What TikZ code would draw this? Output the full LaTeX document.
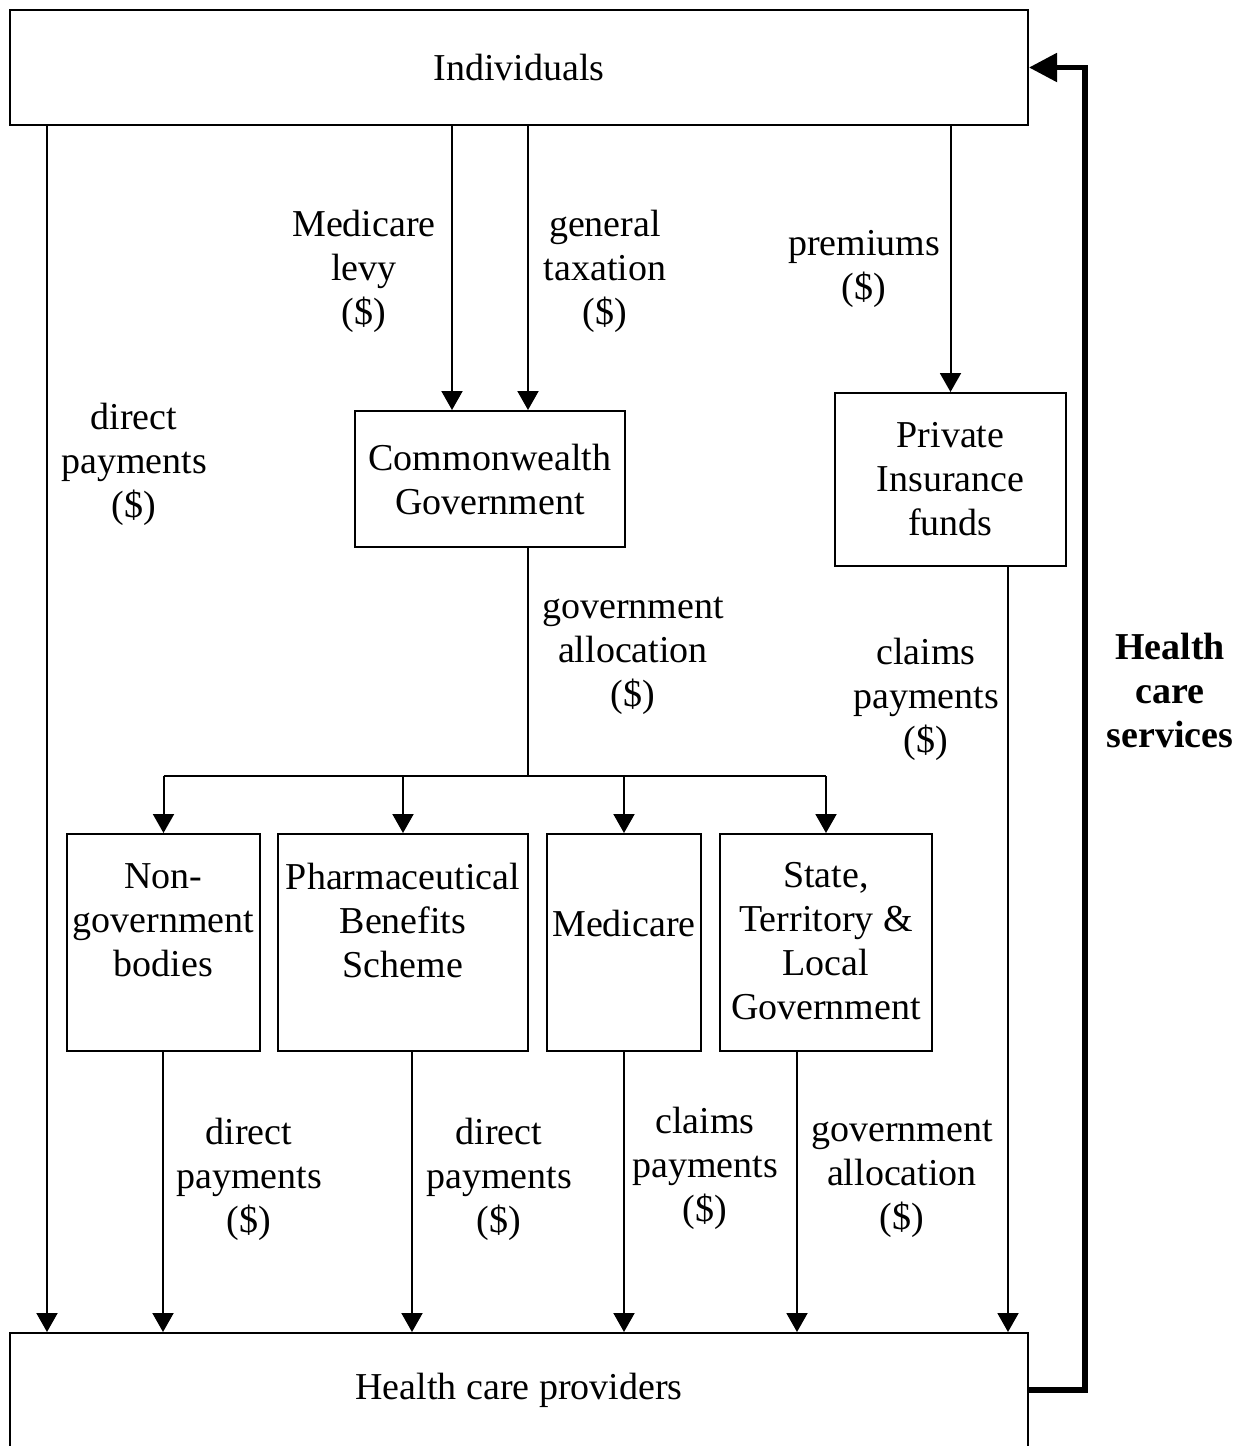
\documentclass[tikz,border=0pt]{standalone}
\usepackage{fontspec}
\setmainfont{Liberation Serif}
\usetikzlibrary{arrows.meta, positioning}
\def\rowY{942.5}
\def\rowHeight{108.5pt}
\def\busY{776}

\tikzset{
  box/.style={draw, line width=1pt, inner sep=0pt, align=center},
  flow/.style={line width=1pt, -{Triangle[length=9.5pt, width=10.5pt]}},
  lbl/.style={align=center, inner sep=0pt},
  service/.style={line width=2.6pt, -{Triangle[length=14pt, width=14pt]}},
}

\begin{document}
\begin{tikzpicture}[x=0.5pt, y=-0.5pt, font=\fontsize{19}{22}\selectfont]
  \useasboundingbox (0,0) rectangle (1252,1446);

  % Draw top and bottom boxes
  \node[box, minimum width=509pt, minimum height=57.5pt] (individuals) at (519,67.5) {Individuals};
  \node[box, minimum width=509pt, minimum height=57pt] (providers) at (519,1390) {Health care providers};

  % Draw middle boxes
  \node[box, minimum width=135pt, minimum height=68pt] (commonwealth) at (490,479) {Commonwealth\\Government};
  \node[box, minimum width=115.5pt, minimum height=86.5pt] (private) at (950.5,479.5) {Private\\Insurance\\funds};

  % Draw lower row
  \node[box, minimum width=96.5pt, minimum height=\rowHeight] (nongov) at (163.5,\rowY) {};
  \node[box, minimum width=125pt, minimum height=\rowHeight] (pbs) at (403,\rowY) {};
  \node[box, minimum width=77pt, minimum height=\rowHeight] (medicare) at (624,\rowY) {};
  \node[box, minimum width=106pt, minimum height=\rowHeight] (state) at (826,\rowY) {};
  \node[lbl] (nongovText) at (163.5,920) {Non-\\government\\bodies};
  \node[lbl] (pbsText) at (403,920) {Pharmaceutical\\Benefits\\Scheme};
  \node[lbl] (medicareText) at (624,923) {Medicare};
  \node[lbl] (stateText) at (826,941) {State,\\Territory \&\\Local\\Government};

  % Flows out of individuals
  \coordinate (cDirect) at (47,0);
  \coordinate (cLevy) at (452,0);
  \coordinate (cTax) at (528,0);
  \draw[flow] (individuals.south -| cDirect) -- (providers.north -| cDirect);
  \draw[flow] (individuals.south -| cLevy) -- (commonwealth.north -| cLevy);
  \draw[flow] (individuals.south -| cTax) -- (commonwealth.north -| cTax);
  \draw[flow] (individuals.south -| private) -- (private.north);

  % Government allocation
  \coordinate (bus) at (528,\busY);
  \draw[line width=1pt] (commonwealth.south -| bus) -- (bus);
  \draw[line width=1pt] (bus -| nongov) -- (bus -| state);
  \foreach \b in {nongov, pbs, medicare, state} {
    \draw[flow] (bus -| \b) -- (\b.north);
  }

  % Payments to providers
  \foreach \b/\x in {nongov/163, pbs/412, medicare/624, state/797, private/1008} {
    \coordinate (c\b) at (\x,0);
    \draw[flow] (\b.south -| c\b) -- (providers.north -| c\b);
  }

  % Health care services
  \coordinate (loop) at (1085,0);
  \draw[service] (providers.east) -| (loop |- individuals.east) -- (individuals.east);

  % Labels
  \node[lbl] (leftPay) at (134,464) {direct\\payments\\(\$)};
  \node[lbl] (levy) at (364,271) {Medicare\\levy\\(\$)};
  \node[lbl] (taxation) at (605,271) {general\\taxation\\(\$)};
  \node[lbl] (premiums) at (864,269) {premiums\\(\$)};
  \node[lbl] (govAlloc) at (633,656) {government\\allocation\\(\$)};
  \node[lbl] (claims) at (926,699) {claims\\payments\\(\$)};
  \node[lbl, font=\fontsize{19}{22}\selectfont\bfseries] (services) at (1170,690) {Health\\care\\services};
  \node[lbl] (nongovPay) at (249,1179) {direct\\payments\\(\$)};
  \node[lbl] (pbsPay) at (499,1179) {direct\\payments\\(\$)};
  \node[lbl] (medicarePay) at (705,1168) {claims\\payments\\(\$)};
  \node[lbl] (statePay) at (902,1179) {government\\allocation\\(\$)};
\end{tikzpicture}
\end{document}
